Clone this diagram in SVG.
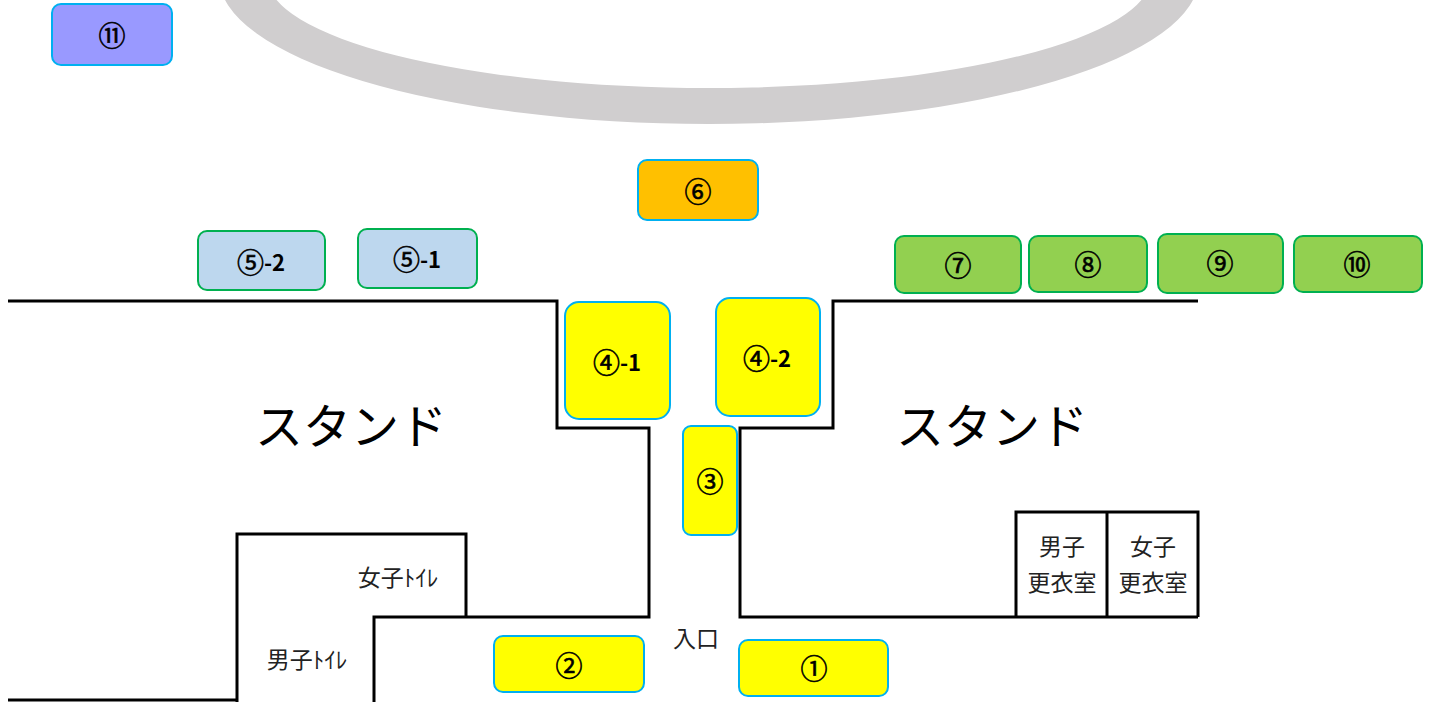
<svg xmlns="http://www.w3.org/2000/svg" width="1432" height="702" viewBox="0 0 1432 702">
<style>
.box{stroke-width:2}
.y{fill:#ffff00;stroke:#00b0f0}
.g{fill:#92d050;stroke:#00b050}
.lb{fill:#bdd7ee;stroke:#00b050}
.o{fill:#ffc000;stroke:#00b0f0}
.p{fill:#9999ff;stroke:#00b0f0}
.wall{fill:none;stroke:#000;stroke-width:3;stroke-linejoin:miter}
.n{font-family:"Noto Sans CJK JP","Noto Sans",sans-serif;font-size:22px;font-weight:bold;fill:#000;text-anchor:middle;dominant-baseline:central}
.c{font-size:27px;font-weight:normal;stroke:#000;stroke-width:0.6}
.t{font-family:"Noto Sans CJK JP","Noto Sans",sans-serif;font-size:23px;fill:#222;text-anchor:middle;dominant-baseline:central}
.big{font-family:"Noto Sans CJK JP","Noto Sans",sans-serif;font-size:48px;font-weight:normal;fill:#000;text-anchor:middle;dominant-baseline:central}
</style>
<rect width="1432" height="702" fill="#fff"/>
<g id="track">
<path d="M219,-23 a490,147 0 1,0 980,0 a490,147 0 1,0 -980,0 Z M267,-23 a442,111 0 1,0 884,0 a442,111 0 1,0 -884,0 Z" fill="#d0cecf" fill-rule="evenodd"/>
</g>
<g id="walls">
<path class="wall" d="M8,301 H557 V428 H649 V617 H374 V702"/>
<path class="wall" d="M237,702 V534 H466 V617"/>
<path class="wall" d="M8,700 H237"/>
<path class="wall" d="M1198,301 H833 V428 H740 V617 H1198"/>
<path class="wall" d="M1016,617 V512 H1198 V617 M1107,512 V617"/>
</g>
<g id="labels">
<text class="big" x="351" y="423">スタンド</text>
<text class="big" x="992" y="423">スタンド</text>
<text class="t" x="398" y="576">女子ﾄｲﾚ</text>
<text class="t" x="307" y="658">男子ﾄｲﾚ</text>
<text class="t" x="696" y="637">入口</text>
<text class="t" x="1062" y="545">男子</text>
<text class="t" x="1062" y="581">更衣室</text>
<text class="t" x="1153" y="545">女子</text>
<text class="t" x="1153" y="581">更衣室</text>
</g>
<g id="n11"><rect class="box p" x="52" y="4" width="120" height="61" rx="9"/><text class="n c" x="112" y="34">⑪</text></g>
<g id="n5-2"><rect class="box lb" x="198" y="231" width="127" height="59" rx="9"/><text class="n" x="261" y="261"><tspan class="c">⑤</tspan>-2</text></g>
<g id="n5-1"><rect class="box lb" x="358" y="229" width="119" height="59" rx="9"/><text class="n" x="417" y="258"><tspan class="c">⑤</tspan>-1</text></g>
<g id="n6"><rect class="box o" x="638" y="160" width="120" height="60" rx="9"/><text class="n c" x="698" y="190">⑥</text></g>
<g id="n4-1"><rect class="box y" x="565" y="302" width="105" height="117" rx="14"/><text class="n" x="617" y="361"><tspan class="c">④</tspan>-1</text></g>
<g id="n4-2"><rect class="box y" x="716" y="298" width="104" height="118" rx="14"/><text class="n" x="767" y="357"><tspan class="c">④</tspan>-2</text></g>
<g id="n3"><rect class="box y" x="683" y="426" width="54" height="109" rx="8"/><text class="n c" x="710" y="480">③</text></g>
<g id="n7"><rect class="box g" x="895" y="236" width="126" height="57" rx="9"/><text class="n c" x="958" y="264">⑦</text></g>
<g id="n8"><rect class="box g" x="1029" y="236" width="118" height="56" rx="9"/><text class="n c" x="1088" y="263">⑧</text></g>
<g id="n9"><rect class="box g" x="1158" y="234" width="125" height="59" rx="9"/><text class="n c" x="1220" y="262">⑨</text></g>
<g id="n10"><rect class="box g" x="1294" y="236" width="128" height="56" rx="9"/><text class="n c" x="1357" y="263">⑩</text></g>
<g id="n2"><rect class="box y" x="494" y="636" width="150" height="56" rx="9"/><text class="n c" x="569" y="664">②</text></g>
<g id="n1"><rect class="box y" x="739" y="640" width="149" height="56" rx="9"/><text class="n c" x="814" y="667">①</text></g>
</svg>
